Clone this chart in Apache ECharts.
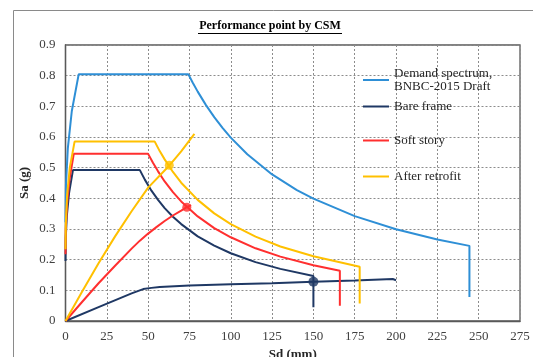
<!DOCTYPE html>
<html>
<head>
<meta charset="utf-8">
<script src="https://cdn.jsdelivr.net/npm/echarts@6/dist/echarts.min.js"></script>
<style>
html,body{margin:0;padding:0;background:#fff;}
#chart{width:533px;height:357px;}
</style>
</head>
<body>
<div id="chart"></div>
<script>
// ---- data ----
const titleText = 'Performance point by CSM';
const xAxisName = 'Sd (mm)';
const yAxisName = 'Sa (g)';
const xTicks = {min: 0, max: 275, step: 25};
const yTicks = {min: 0, max: 0.9, step: 0.1};
const seriesNames = ['Demand spectrum,\nBNBC-2015 Draft', 'Bare frame', 'Soft story', 'After retrofit'];

const demandSpectrum = [[0,0.322],[0.27,0.443],[1.4,0.563],[3.8,0.684],[8,0.805],[74.3,0.805],[77,0.777],[80,0.748],[85,0.704],[90,0.665],[95,0.63],[100,0.598],[110,0.544],[125,0.478],[140,0.427],[150,0.399],[175,0.342],[200,0.299],[225,0.266],[244.4,0.245],[244.4,0.078]];

const bareDemand = [[0,0.196],[0.15,0.27],[0.8,0.343],[2.15,0.417],[4.5,0.492],[45,0.492],[48,0.461],[52,0.425],[56,0.395],[60,0.368],[65,0.34],[70,0.316],[80,0.276],[90,0.246],[100,0.221],[115,0.192],[130,0.17],[150,0.147],[150,0.045]];
const bareCapacity = [[0,0],[20,0.045],[40,0.09],[47,0.104],[52,0.108],[57,0.111],[75,0.116],[100,0.12],[125,0.123],[150,0.128],[175,0.132],[198,0.137],[198.5,0.133],[200,0.133]];
const barePoint = [[150,0.128]];

const softDemand = [[0,0.218],[0.17,0.3],[0.9,0.38],[2.4,0.46],[5,0.545],[50,0.545],[53,0.515],[56,0.488],[60,0.455],[65,0.42],[70,0.39],[80,0.341],[90,0.303],[100,0.273],[115,0.237],[130,0.21],[150,0.182],[166,0.164],[166,0.05]];
const softCapacity = [[0,0],[10,0.062],[20,0.123],[30,0.18],[40,0.236],[45,0.262],[50,0.285],[55,0.306],[60,0.326],[65,0.344],[70,0.36],[73.4,0.371],[76,0.378]];
const softPoint = [[73.4,0.371]];

const retrofitDemand = [[0,0.234],[0.19,0.32],[0.96,0.41],[2.6,0.5],[5.5,0.585],[54,0.585],[57,0.554],[60,0.527],[65,0.486],[70,0.451],[80,0.395],[90,0.351],[100,0.316],[115,0.275],[130,0.243],[150,0.211],[178,0.177],[178,0.057]];
const retrofitCapacity = [[0,0],[10,0.095],[20,0.188],[30,0.276],[40,0.358],[50,0.435],[63,0.508],[70,0.553],[78,0.61]];
const retrofitPoint = [[62.8,0.508]];

// ---- styles ----
const colors = ['#2E8FD6', '#1F3864', '#FF2F2F', '#FFC000'];
const serif = '"Liberation Serif", "Times New Roman", serif';

function lineSeries(name, data, color) {
  return {
    name: name, type: 'line', data: data, symbol: 'none', showSymbol: false,
    lineStyle: {color: color, width: 2}, itemStyle: {color: color},
    animation: false, z: 3
  };
}
function pointSeries(name, data, color, size) {
  return {
    name: name, type: 'scatter', data: data, symbol: 'circle', symbolSize: size,
    itemStyle: {color: color}, animation: false, z: 5
  };
}
function legendAt(name, top) {
  return {
    data: [name], left: 363, top: top, orient: 'vertical', padding: 0,
    itemWidth: 26, itemHeight: 12, icon: 'path://M0,5 L26,5 L26,7 L0,7 Z',
    textStyle: {fontFamily: serif, fontSize: 13, color: '#262626', lineHeight: 13},
    selectedMode: false
  };
}

const chart = echarts.init(document.getElementById('chart'), null, {renderer: 'canvas'});
chart.setOption({
  backgroundColor: '#ffffff',
  animation: false,
  title: {
    text: titleText, left: 270, top: 20, textAlign: 'center', padding: 0,
    textStyle: {fontFamily: serif, fontSize: 12, fontWeight: 'bold', color: '#000'}
  },
  graphic: [
    {type: 'rect', shape: {x: 13.5, y: 10.5, width: 600, height: 400}, style: {fill: 'none', stroke: '#8a8a8a', lineWidth: 1}, silent: true},
    {type: 'line', shape: {x1: 198, y1: 33.5, x2: 342, y2: 33.5}, style: {stroke: '#000', lineWidth: 1}, silent: true}
  ],
  legend: [
    legendAt(seriesNames[0], 67),
    legendAt(seriesNames[1], 100),
    legendAt(seriesNames[2], 134),
    legendAt(seriesNames[3], 170)
  ],
  grid: {
    left: 65.5, top: 45, right: 13, bottom: 36,
    show: true, borderColor: '#595959', borderWidth: 1.3,
    containLabel: false, outerBoundsMode: 'none'
  },
  xAxis: {
    type: 'value', min: xTicks.min, max: xTicks.max, interval: xTicks.step,
    name: xAxisName, nameLocation: 'middle', nameGap: 25,
    nameTextStyle: {fontFamily: serif, fontSize: 13, fontWeight: 'bold', color: '#262626'},
    axisLine: {show: true, lineStyle: {color: '#595959', width: 1.3}},
    axisTick: {show: false},
    axisLabel: {fontFamily: serif, fontSize: 13, color: '#404040', margin: 9, showMaxLabel: true},
    splitLine: {show: true, lineStyle: {color: '#8c8c8c', type: [2, 2], width: 1}}
  },
  yAxis: {
    type: 'value', min: yTicks.min, max: yTicks.max, interval: yTicks.step,
    name: yAxisName, nameLocation: 'middle', nameGap: 34, nameMoveOverlap: false,
    nameTextStyle: {fontFamily: serif, fontSize: 13, fontWeight: 'bold', color: '#262626'},
    axisLine: {show: true, lineStyle: {color: '#595959', width: 1.3}},
    axisTick: {show: false},
    axisLabel: {fontFamily: serif, fontSize: 13, color: '#404040', margin: 10,
      formatter: function (v) { return String(Math.round(v * 10) / 10); }},
    splitLine: {show: true, lineStyle: {color: '#8c8c8c', type: [2, 2], width: 1}}
  },
  series: [
    lineSeries(seriesNames[0], demandSpectrum, colors[0]),
    lineSeries(seriesNames[1], bareDemand, colors[1]),
    lineSeries(seriesNames[1], bareCapacity, colors[1]),
    lineSeries(seriesNames[2], softDemand, colors[2]),
    lineSeries(seriesNames[2], softCapacity, colors[2]),
    lineSeries(seriesNames[3], retrofitDemand, colors[3]),
    lineSeries(seriesNames[3], retrofitCapacity, colors[3]),
    pointSeries('PP bare frame', barePoint, colors[1], 10),
    pointSeries('PP soft story', softPoint, colors[2], 9),
    pointSeries('PP after retrofit', retrofitPoint, colors[3], 9)
  ]
});
</script>
</body>
</html>
